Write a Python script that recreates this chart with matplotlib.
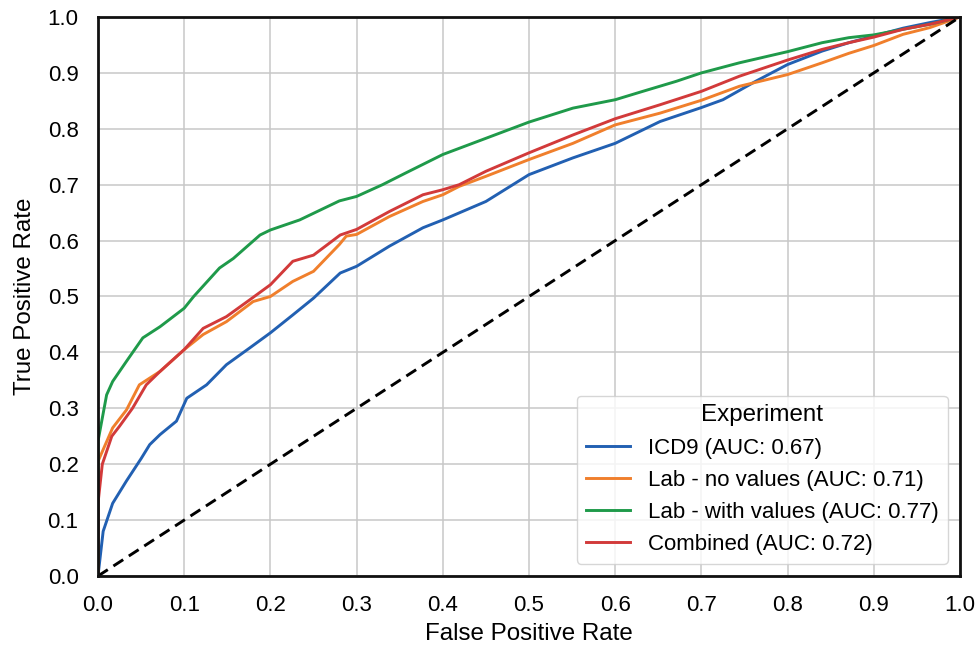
import matplotlib
matplotlib.use("Agg")
import matplotlib.pyplot as plt

plt.rcParams['font.family'] = ['Liberation Sans', 'DejaVu Sans']

# ROC curves
icd9_fpr = [0, 0.006, 0.017, 0.033, 0.05, 0.06, 0.072, 0.091, 0.103, 0.126, 0.149, 0.176, 0.2,
            0.226, 0.25, 0.281, 0.3, 0.338, 0.377, 0.4, 0.45, 0.5, 0.551, 0.6, 0.652, 0.7, 0.725,
            0.763, 0.8, 0.84, 0.871, 0.9, 0.934, 0.965, 1.0]
icd9_tpr = [0, 0.08, 0.13, 0.17, 0.21, 0.235, 0.253, 0.277, 0.318, 0.342, 0.378, 0.408, 0.435,
            0.467, 0.497, 0.542, 0.554, 0.59, 0.623, 0.637, 0.67, 0.718, 0.748, 0.774, 0.813, 0.838,
            0.852, 0.885, 0.915, 0.939, 0.954, 0.966, 0.98, 0.99, 1.0]

lab_fpr = [0, 0, 0.017, 0.033, 0.048, 0.072, 0.1, 0.122, 0.149, 0.18, 0.2, 0.226, 0.25, 0.28,
           0.288, 0.3, 0.338, 0.377, 0.4, 0.419, 0.45, 0.5, 0.551, 0.6, 0.652, 0.7, 0.744, 0.8,
           0.84, 0.871, 0.9, 0.934, 0.965, 1.0]
lab_tpr = [0, 0.205, 0.265, 0.297, 0.342, 0.366, 0.405, 0.432, 0.455, 0.491, 0.5, 0.527, 0.545,
           0.593, 0.608, 0.611, 0.643, 0.67, 0.682, 0.697, 0.715, 0.745, 0.774, 0.807, 0.828, 0.851,
           0.876, 0.897, 0.918, 0.935, 0.949, 0.969, 0.981, 1.0]

labval_fpr = [0, 0, 0.01, 0.017, 0.033, 0.052, 0.072, 0.1, 0.111, 0.141, 0.157, 0.188, 0.2, 0.234,
              0.28, 0.3, 0.33, 0.357, 0.4, 0.45, 0.5, 0.551, 0.6, 0.632, 0.671, 0.7, 0.744, 0.8,
              0.84, 0.871, 0.9, 0.934, 0.965, 1.0]
labval_tpr = [0, 0.241, 0.324, 0.348, 0.384, 0.426, 0.446, 0.479, 0.5, 0.551, 0.568, 0.61, 0.619,
              0.637, 0.671, 0.679, 0.70, 0.721, 0.754, 0.783, 0.812, 0.837, 0.852, 0.867, 0.885,
              0.9, 0.918, 0.938, 0.954, 0.963, 0.968, 0.978, 0.987, 1.0]

comb_fpr = [0, 0, 0.005, 0.016, 0.025, 0.04, 0.056, 0.072, 0.1, 0.122, 0.149, 0.176, 0.2, 0.226,
            0.25, 0.281, 0.3, 0.338, 0.377, 0.4, 0.419, 0.45, 0.5, 0.551, 0.6, 0.652, 0.7, 0.744,
            0.8, 0.84, 0.871, 0.9, 0.934, 0.965, 1.0]
comb_tpr = [0, 0.13, 0.2, 0.25, 0.268, 0.3, 0.342, 0.366, 0.405, 0.443, 0.464, 0.494, 0.521, 0.563,
            0.574, 0.61, 0.62, 0.652, 0.682, 0.691, 0.70, 0.724, 0.757, 0.789, 0.818, 0.843, 0.867,
            0.894, 0.923, 0.942, 0.954, 0.964, 0.978, 0.987, 1.0]

labels = ["ICD9 (AUC: 0.67)", "Lab - no values (AUC: 0.71)",
          "Lab - with values (AUC: 0.77)", "Combined (AUC: 0.72)"]
colors = ['#2260b2', '#f07f2c', '#1f9a4a', '#d23a3a']
ticks = [0.0, 0.1, 0.2, 0.3, 0.4, 0.5, 0.6, 0.7, 0.8, 0.9, 1.0]

fig = plt.figure(figsize=(9.78, 6.51), dpi=100)
ax = fig.add_axes([0.1002, 0.1152, 0.8814, 0.8587])

curves = [(icd9_fpr, icd9_tpr), (lab_fpr, lab_tpr), (labval_fpr, labval_tpr), (comb_fpr, comb_tpr)]
for (x, y), lab, c in zip(curves, labels, colors):
    ax.plot(x, y, color=c, lw=2.1, label=lab)

# chance line
ax.plot([0, 1], [0, 1], color='black', lw=2.1, linestyle=(0, (4, 2.3)))

ax.set_xlim(0, 1)
ax.set_ylim(0, 1)
ax.set_xticks(ticks)
ax.set_yticks(ticks)
ax.set_xticklabels([f"{t:.1f}" for t in ticks])
ax.set_yticklabels([f"{t:.1f}" for t in ticks])
ax.tick_params(length=0, labelsize=16, pad=14)
ax.grid(True, color='#c8c8c8', lw=1.1)
ax.set_axisbelow(True)
for s in ax.spines.values():
    s.set_color('#111111')
    s.set_linewidth(2.0)

ax.set_xlabel('False Positive Rate', fontsize=17.4, labelpad=5)
ax.set_ylabel('True Positive Rate', fontsize=17.4, labelpad=8)

leg = ax.legend(title='Experiment', loc='lower right', fontsize=16, title_fontsize=17.4,
                frameon=True, fancybox=True, edgecolor='#cccccc', framealpha=0.8,
                borderaxespad=0.55, handlelength=2.0)

fig.savefig('out.png', dpi=100)
